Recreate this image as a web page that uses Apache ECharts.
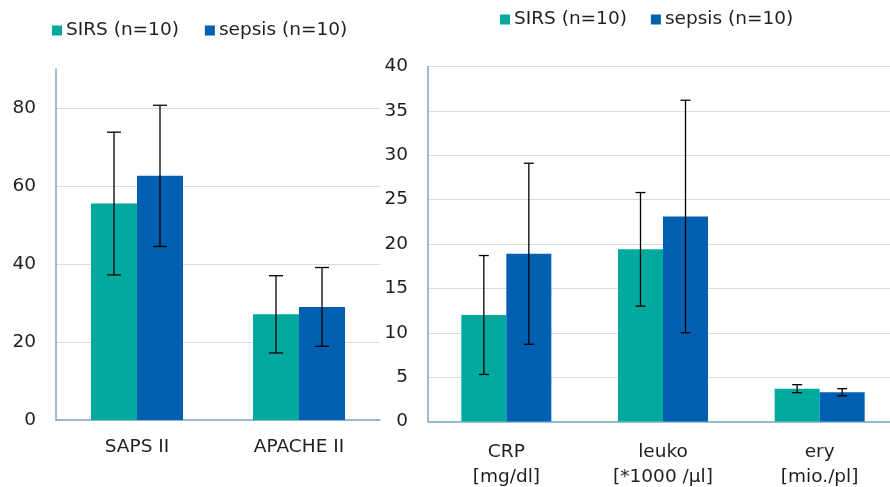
<!DOCTYPE html>
<html>
<head>
<meta charset="utf-8">
<script src="https://cdn.jsdelivr.net/npm/echarts@6/dist/echarts.min.js"></script>
<style>html,body{margin:0;padding:0;background:#fff}#c{width:890px;height:487px}</style>
</head>
<body>
<div id="c"></div>
<script>
// ---- data ----
const seriesNames = ['SIRS (n=10)', 'sepsis (n=10)'];
const leftCategories = ['SAPS II', 'APACHE II'];
const leftSirsMean = [55.5, 27.1];
const leftSirsSD = [18.3, 9.9];
const leftSepsisMean = [62.6, 29.0];
const leftSepsisSD = [18.1, 10.1];
const leftTicks = [0, 20, 40, 60, 80];

const rightCategories = ['CRP\n[mg/dl]', 'leuko\n[*1000 /µl]', 'ery\n[mio./pl]'];
const rightSirsMean = [12.0, 19.4, 3.7];
const rightSirsSD = [6.7, 6.4, 0.45];
const rightSepsisMean = [18.9, 23.1, 3.3];
const rightSepsisSD = [10.2, 13.1, 0.4];
const rightTicks = [0, 5, 10, 15, 20, 25, 30, 35, 40];

// ---- styles ----
const C_SIRS = '#00a99d';
const C_SEPSIS = '#005fb0';
const AXIS_C = '#7ea6c9';
const GRID_C = '#dcdcdc';
const TXT = '#1f1f1f';
const FONT = 'DejaVu Sans';
const FS = 18.5;
const BW_L = 46, BW_R = 45;

function errData(mean, sd) {
  return mean.map((m, i) => [i, m - sd[i], m + sd[i]]);
}
function errSeries(name, mean, sd, xi, side, bw, cap) {
  return {
    type: 'custom', name: name + ' err', xAxisIndex: xi, yAxisIndex: xi, z: 5,
    data: errData(mean, sd),
    renderItem: function (params, api) {
      const lo = api.coord([api.value(0), api.value(1)]);
      const hi = api.coord([api.value(0), api.value(2)]);
      const x = lo[0] + side * bw / 2;
      const st = { stroke: '#000', lineWidth: 1.3 };
      return { type: 'group', children: [
        { type: 'line', shape: { x1: x, y1: lo[1], x2: x, y2: hi[1] }, style: st },
        { type: 'line', shape: { x1: x - cap / 2, y1: lo[1], x2: x + cap / 2, y2: lo[1] }, style: st },
        { type: 'line', shape: { x1: x - cap / 2, y1: hi[1], x2: x + cap / 2, y2: hi[1] }, style: st }
      ]};
    },
    tooltip: { show: false }
  };
}

const txt = { color: TXT, fontFamily: FONT, fontSize: FS };

const option = {
  animation: false,
  backgroundColor: '#fff',
  legend: [
    { left: 47, top: 16, itemWidth: 10, itemHeight: 10, itemGap: 26, icon: 'rect',
      data: seriesNames, textStyle: Object.assign({}, txt, { padding: [0, 0, 0, -1] }) },
    { left: 495, top: 5, itemWidth: 10, itemHeight: 10, itemGap: 24, icon: 'rect',
      data: seriesNames, textStyle: Object.assign({}, txt, { padding: [0, 0, 0, -1] }) }
  ],
  grid: [
    { left: 56, top: 69, width: 324, bottom: 67, outerBoundsMode: 'none', containLabel: false },
    { left: 428, top: 66.5, width: 470, bottom: 65.5, outerBoundsMode: 'none', containLabel: false }
  ],
  xAxis: [
    { type: 'category', gridIndex: 0, data: leftCategories,
      axisLine: { lineStyle: { color: AXIS_C, width: 1.5 } }, axisTick: { show: false },
      axisLabel: Object.assign({}, txt, { margin: 18 }) },
    { type: 'category', gridIndex: 1, data: rightCategories,
      axisLine: { lineStyle: { color: AXIS_C, width: 1.5 } }, axisTick: { show: false },
      axisLabel: Object.assign({}, txt, { margin: 18, lineHeight: 25 }) }
  ],
  yAxis: [
    { type: 'value', gridIndex: 0, min: leftTicks[0], max: 90, interval: leftTicks[1] - leftTicks[0],
      axisLine: { show: true, lineStyle: { color: AXIS_C, width: 1.5 } }, axisTick: { show: false },
      axisLabel: Object.assign({}, txt, { margin: 20, showMaxLabel: false }),
      splitLine: { showMaxLine: false, lineStyle: { color: GRID_C, width: 1.2 } } },
    { type: 'value', gridIndex: 1, min: rightTicks[0], max: rightTicks[rightTicks.length - 1],
      interval: rightTicks[1] - rightTicks[0],
      axisLine: { show: true, lineStyle: { color: AXIS_C, width: 1.5 } }, axisTick: { show: false },
      axisLabel: Object.assign({}, txt, { margin: 20 }),
      splitLine: { lineStyle: { color: GRID_C, width: 1.2 } } }
  ],
  series: [
    { type: 'bar', name: seriesNames[0], xAxisIndex: 0, yAxisIndex: 0, data: leftSirsMean,
      barWidth: BW_L, barGap: '0%', itemStyle: { color: C_SIRS } },
    { type: 'bar', name: seriesNames[1], xAxisIndex: 0, yAxisIndex: 0, data: leftSepsisMean,
      barWidth: BW_L, barGap: '0%', itemStyle: { color: C_SEPSIS } },
    { type: 'bar', name: seriesNames[0], xAxisIndex: 1, yAxisIndex: 1, data: rightSirsMean,
      barWidth: BW_R, barGap: '0%', itemStyle: { color: C_SIRS } },
    { type: 'bar', name: seriesNames[1], xAxisIndex: 1, yAxisIndex: 1, data: rightSepsisMean,
      barWidth: BW_R, barGap: '0%', itemStyle: { color: C_SEPSIS } },
    errSeries('sl', leftSirsMean, leftSirsSD, 0, -1, BW_L, 14),
    errSeries('pl', leftSepsisMean, leftSepsisSD, 0, 1, BW_L, 14),
    errSeries('sr', rightSirsMean, rightSirsSD, 1, -1, BW_R, 10),
    errSeries('pr', rightSepsisMean, rightSepsisSD, 1, 1, BW_R, 10)
  ]
};
const chart = echarts.init(document.getElementById('c'), null, { renderer: 'canvas' });
chart.setOption(option);
</script>
</body>
</html>
